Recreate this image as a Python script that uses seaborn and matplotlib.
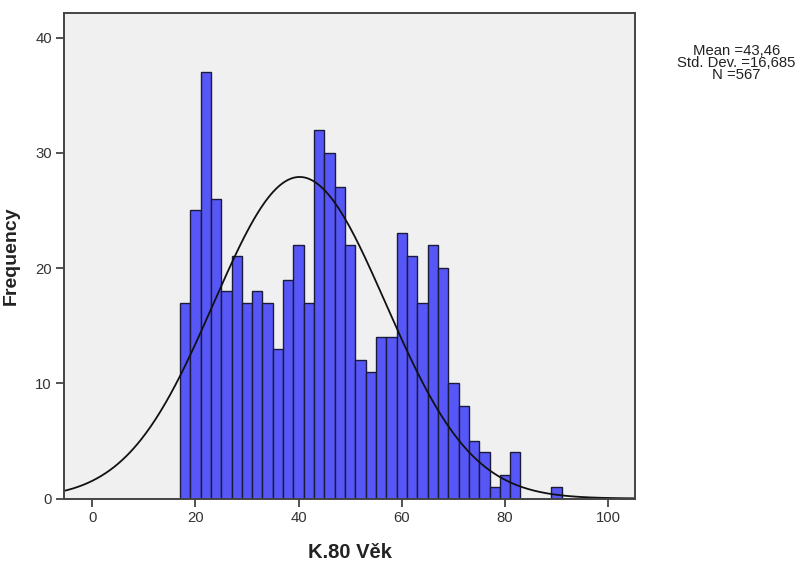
import numpy as np
import pandas as pd
import matplotlib
matplotlib.use("Agg")
import matplotlib.pyplot as plt
import seaborn as sns

# Data (bin centres of 2-year bins and their counts)
bin_centers = [18, 20, 22, 24, 26, 28, 30, 32, 34, 36, 38, 40, 42, 44, 46, 48, 50,
               52, 54, 56, 58, 60, 62, 64, 66, 68, 70, 72, 74, 76, 78, 80, 82, 90]
counts = [17, 25, 37, 26, 18, 21, 17, 18, 17, 13, 19, 22, 17, 32, 30, 27, 22,
          12, 11, 14, 14, 23, 21, 17, 22, 20, 10, 8, 5, 4, 1, 2, 4, 1]

x_ticks = [0, 20, 40, 60, 80, 100]
y_ticks = [0, 10, 20, 30, 40]
stats_text = ["Mean =43,46", "Std. Dev. =16,685", "N =567"]

# Fitted normal curve as drawn in the reference
curve_mean = 40.2
curve_sd = 16.685
curve_peak = 27.9

sns.set_theme(style="white")
plt.rcParams['font.family'] = ['Liberation Sans', 'DejaVu Sans']

fig = plt.figure(figsize=(8.01, 5.64), dpi=100)
ax = fig.add_axes([0.0803, 0.1161, 0.7125, 0.8603])
ax.set_facecolor('#f0f0f0')

df = pd.DataFrame({"age": bin_centers, "count": counts})
sns.histplot(data=df, x="age", weights="count", binwidth=2, binrange=(17, 91),
             color='#5757f7', alpha=1.0, edgecolor='#1a1a3a', linewidth=1.0, ax=ax)

xs = np.linspace(-6, 106, 600)
curve = pd.DataFrame({"x": xs,
                      "y": curve_peak * np.exp(-0.5 * ((xs - curve_mean) / curve_sd) ** 2)})
sns.lineplot(data=curve, x="x", y="y", color='#111111', linewidth=1.3, ax=ax)

ax.set_xlim(-5.4, 105.2)
ax.set_ylim(0, 42.1)
ax.set_xticks(x_ticks)
ax.set_yticks(y_ticks)
ax.tick_params(axis='both', which='both', direction='out', length=6, width=1.3,
               color='#444444', labelcolor='#333333', labelsize=10.7, pad=3,
               bottom=True, left=True)
for s in ax.spines.values():
    s.set_color('#444444')
    s.set_linewidth(1.4)

ax.set_xlabel("K.80 Věk", fontsize=14.5, fontweight='bold', color='#222222', labelpad=13)
ax.set_ylabel("Frequency", fontsize=14, fontweight='bold', color='#222222', labelpad=11)

fig.text(0.9195, 0.889, "\n".join(stats_text), ha='center', va='center',
         fontsize=10.7, color='#222222', linespacing=0.82)

fig.savefig("out.png", dpi=100, facecolor='white')
